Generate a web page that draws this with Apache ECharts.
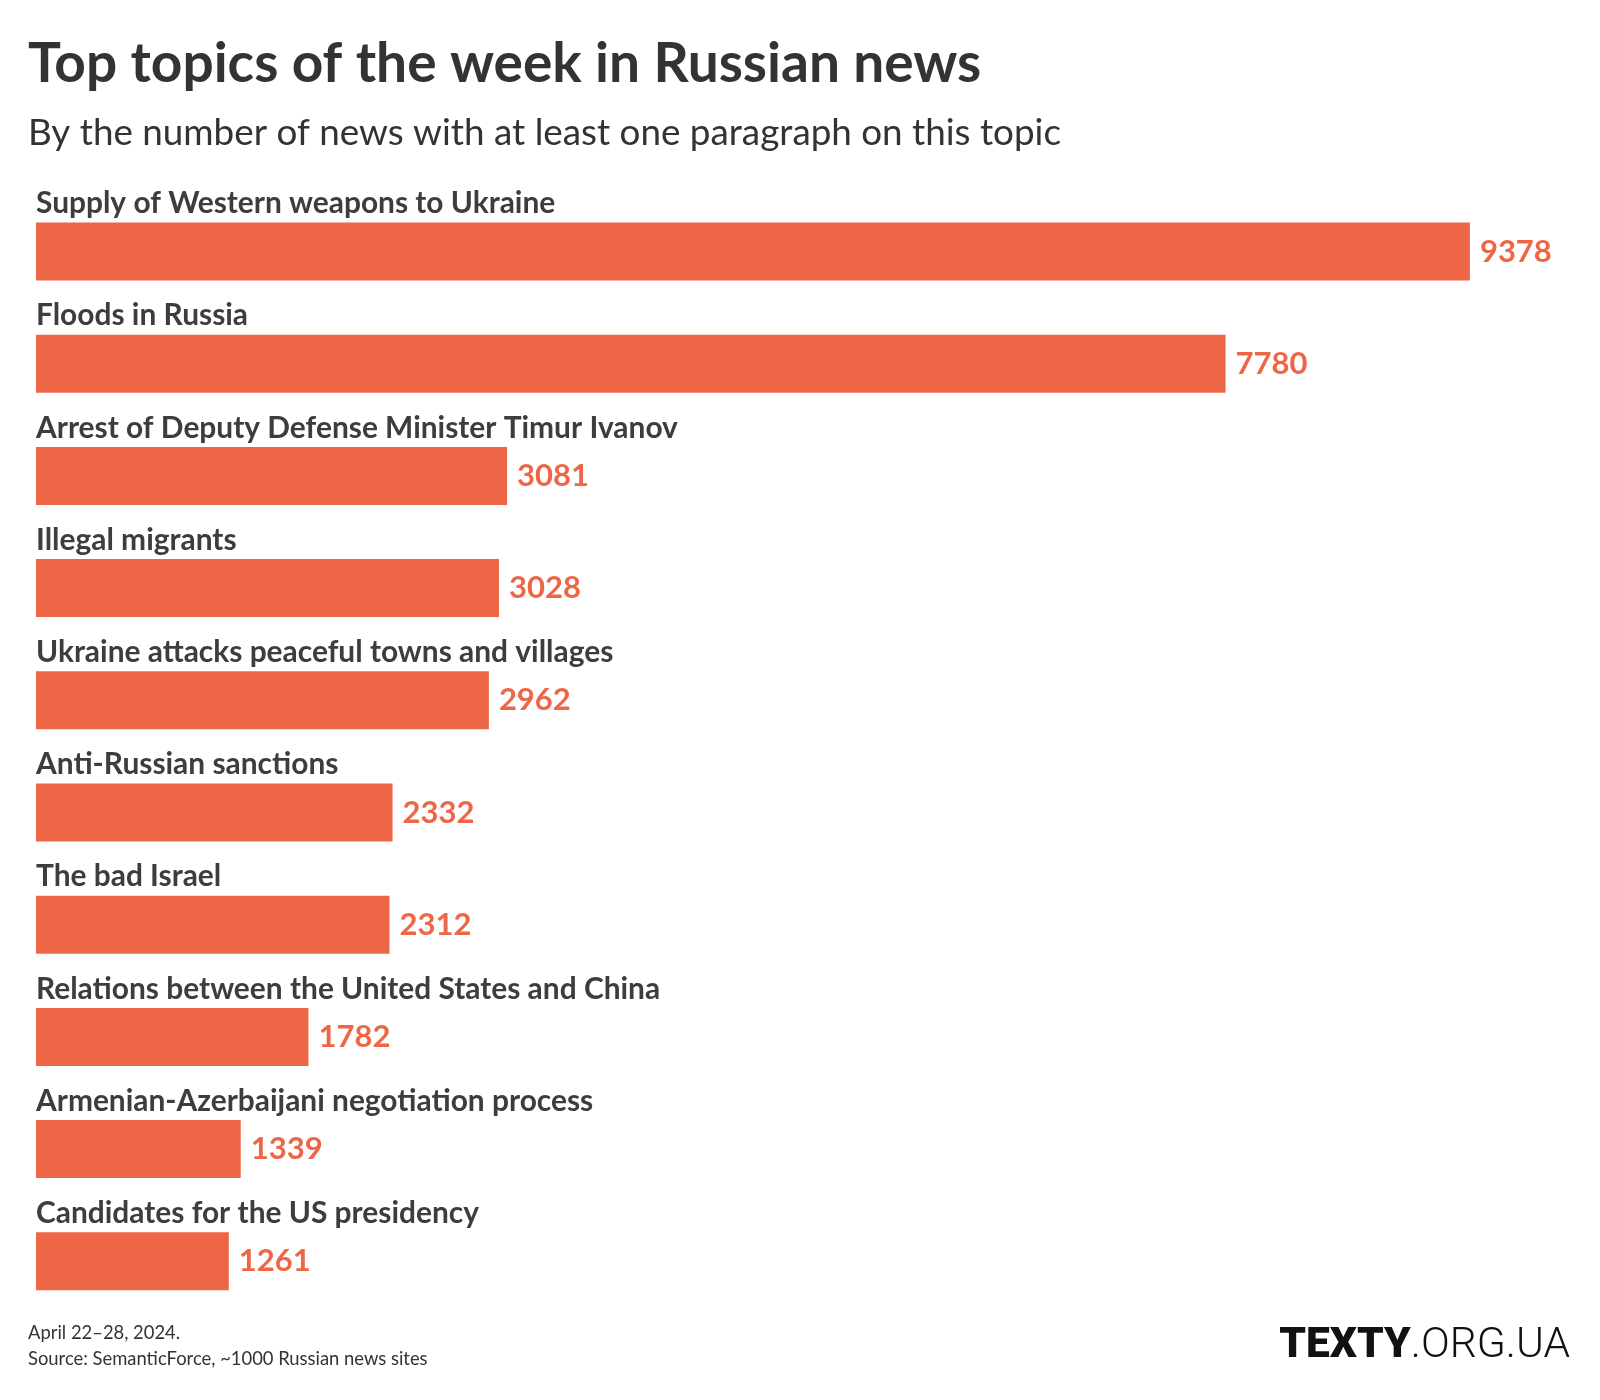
<!DOCTYPE html>
<html>
<head>
<meta charset="utf-8">
<script src="https://cdn.jsdelivr.net/npm/echarts@6/dist/echarts.min.js"></script>
<style>html,body{margin:0;padding:0;background:#fff}#c{width:1600px;height:1400px}</style>
</head>
<body>
<div id="c"></div>
<script>
const categories = [
  "Supply of Western weapons to Ukraine",
  "Floods in Russia",
  "Arrest of Deputy Defense Minister Timur Ivanov",
  "Illegal migrants",
  "Ukraine attacks peaceful towns and villages",
  "Anti-Russian sanctions",
  "The bad Israel",
  "Relations between the United States and China",
  "Armenian-Azerbaijani negotiation process",
  "Candidates for the US presidency"
];
const values = [9378, 7780, 3081, 3028, 2962, 2332, 2312, 1782, 1339, 1261];

const titleText = "Top topics of the week in Russian news";
const subtitleText = "By the number of news with at least one paragraph on this topic";
const footerDate = "April 22–28, 2024.";
const footerSource = "Source: SemanticForce, ~1000 Russian news sites";

const FONT = "Lato";
const ORANGE = "#ED6747";
const chart = echarts.init(document.getElementById('c'), null, {renderer: 'canvas'});
chart.setOption({
  backgroundColor: '#ffffff',
  animation: false,
  title: [
    {text: titleText, left: 28, top: 37, padding: 0,
     textStyle: {fontFamily: FONT, fontWeight: 'bold', fontSize: 55, color: '#333333'}},
    {text: subtitleText, left: 28, top: 115, padding: 0,
     textStyle: {fontFamily: FONT, fontWeight: 'normal', fontSize: 36.8, color: '#333333'}},
    {text: footerDate, left: 28, top: 1324, padding: 0,
     textStyle: {fontFamily: FONT, fontWeight: 'normal', fontSize: 18.4, color: '#333333'}},
    {text: footerSource, left: 28, top: 1350, padding: 0,
     textStyle: {fontFamily: FONT, fontWeight: 'normal', fontSize: 18.4, color: '#333333'}},
    {text: '{a|TEXTY}{b|.ORG.UA}', right: 30, top: 1325, padding: 0,
     textStyle: {rich: {
       a: {fontFamily: 'Roboto', fontWeight: 900, fontSize: 42.5, color: '#111111'},
       b: {fontFamily: 'Roboto', fontWeight: 300, fontSize: 42.5, color: '#111111'}
     }}}
  ],
  grid: {left: 36, right: 35, top: 195.4, height: 1122},
  xAxis: {type: 'value', min: 0, max: 10000, show: false, splitLine: {show: false}},
  yAxis: {
    type: 'category', inverse: true, data: categories,
    axisLine: {show: false}, axisTick: {show: false}, splitLine: {show: false},
    axisLabel: {
      inside: true, margin: 0, interval: 0, align: 'left', verticalAlign: 'bottom',
      padding: [0, 0, 33, 0], lineHeight: 30,
      fontFamily: FONT, fontWeight: 'bold', fontSize: 29.9, color: '#3d3d3d'
    }
  },
  series: [{
    type: 'bar', data: values, barWidth: 58,
    itemStyle: {color: ORANGE},
    label: {show: true, position: 'right', distance: 10,
      fontFamily: FONT, fontWeight: 'bold', fontSize: 31, color: ORANGE}
  }]
});
</script>
</body>
</html>
